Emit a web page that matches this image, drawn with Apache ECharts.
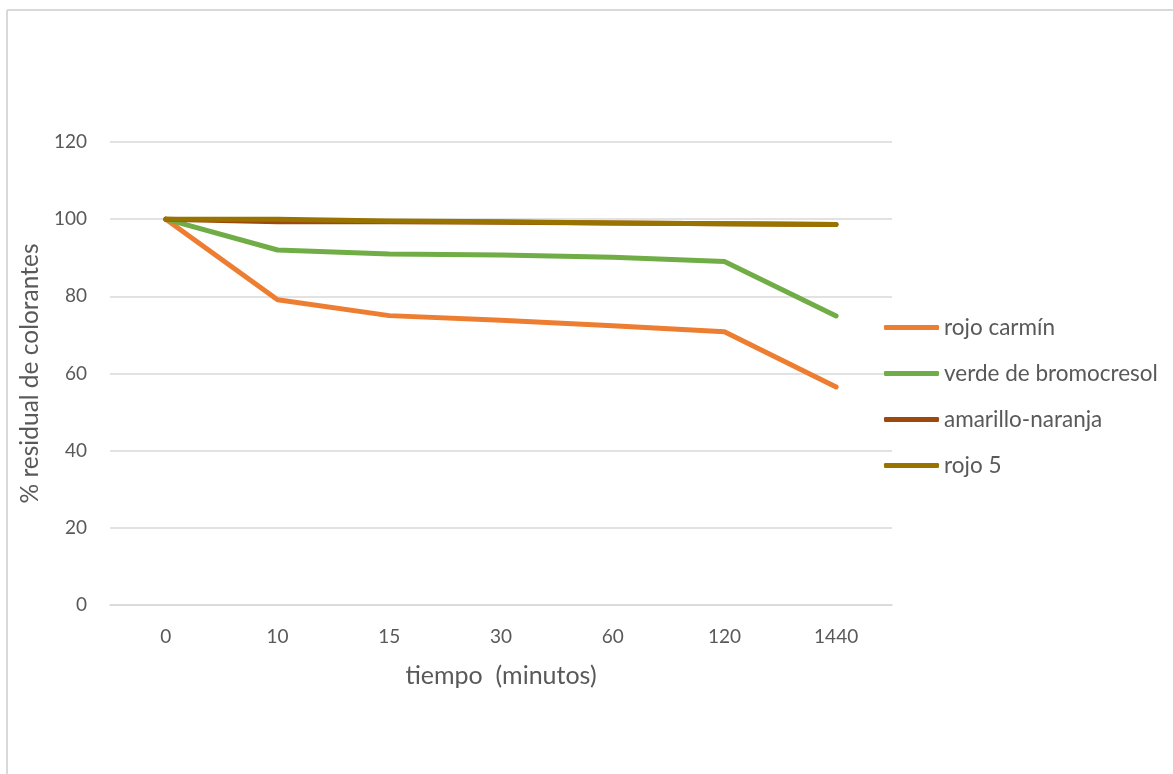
<!DOCTYPE html>
<html>
<head>
<meta charset="utf-8">
<script src="https://cdn.jsdelivr.net/npm/echarts@6/dist/echarts.min.js"></script>
<style>
  html, body { margin: 0; padding: 0; background: #fff; }
  #chart { width: 1173px; height: 774px; }
</style>
</head>
<body>
<div id="chart"></div>
<script>
// Sampling times (minutes)
const tiempos = ['0', '10', '15', '30', '60', '120', '1440'];

// Residual dye percentage per sampling time
const rojoCarmin = [100, 79.1, 75.0, 73.8, 72.4, 70.8, 56.5];
const verdeBromocresol = [100, 92.0, 91.0, 90.7, 90.1, 89.0, 74.9];
const amarilloNaranja = [100, 99.3, 99.3, 99.2, 99.0, 98.8, 98.6];
const rojo5 = [100, 100, 99.5, 99.3, 99.0, 98.8, 98.6];

const yTicks = [0, 20, 40, 60, 80, 100, 120];

const FONT = 'Lato, "Open Sans", sans-serif';
const TEXT = '#595959';

function lineSeries(name, data, color) {
  return {
    name: name,
    type: 'line',
    data: data,
    symbol: 'none',
    showSymbol: false,
    lineStyle: { width: 5, color: color, cap: 'round', join: 'round' },
    itemStyle: { color: color },
    emphasis: { disabled: true }
  };
}

const chart = echarts.init(document.getElementById('chart'), null, { renderer: 'canvas' });
chart.setOption({
  animation: false,
  backgroundColor: '#ffffff',
  textStyle: { fontFamily: FONT, color: TEXT },
  graphic: [
    { type: 'line', shape: { x1: 7, y1: 10, x2: 1173, y2: 10 }, style: { stroke: '#d9d9d9', lineWidth: 2 } },
    { type: 'line', shape: { x1: 7, y1: 10, x2: 7, y2: 774 }, style: { stroke: '#d9d9d9', lineWidth: 2 } }
  ],
  grid: { left: 110, top: 142, width: 782, height: 463, containLabel: false },
  legend: {
    orient: 'vertical',
    left: 884,
    top: 316,
    padding: 0,
    itemWidth: 55,
    itemHeight: 5,
    itemGap: 23,
    icon: 'roundRect',
    textStyle: { fontFamily: FONT, fontSize: 22.5, lineHeight: 22, color: TEXT },
    data: ['rojo carmín', 'verde de bromocresol', 'amarillo-naranja', 'rojo 5']
  },
  xAxis: {
    type: 'category',
    data: tiempos,
    boundaryGap: true,
    name: 'tiempo  (minutos)',
    nameLocation: 'middle',
    nameGap: 58,
    nameTextStyle: { fontFamily: FONT, fontSize: 25, color: TEXT },
    axisLine: { show: true, lineStyle: { color: '#d9d9d9', width: 1.5 } },
    axisTick: { show: false },
    axisLabel: { fontFamily: FONT, fontSize: 19, color: TEXT, margin: 22 }
  },
  yAxis: {
    type: 'value',
    min: yTicks[0],
    max: yTicks[yTicks.length - 1],
    interval: 20,
    name: '% residual de colorantes',
    nameLocation: 'middle',
    nameGap: 64,
    nameRotate: 90,
    nameTextStyle: { fontFamily: FONT, fontSize: 24.5, color: TEXT },
    axisLine: { show: false },
    axisTick: { show: false },
    axisLabel: { fontFamily: FONT, fontSize: 19, color: TEXT, margin: 23 },
    splitLine: { show: true, lineStyle: { color: '#d9d9d9', width: 1.5 } }
  },
  series: [
    lineSeries('rojo carmín', rojoCarmin, '#ED7D31'),
    lineSeries('verde de bromocresol', verdeBromocresol, '#70AD47'),
    lineSeries('amarillo-naranja', amarilloNaranja, '#9E480E'),
    lineSeries('rojo 5', rojo5, '#997300')
  ]
});
</script>
</body>
</html>
